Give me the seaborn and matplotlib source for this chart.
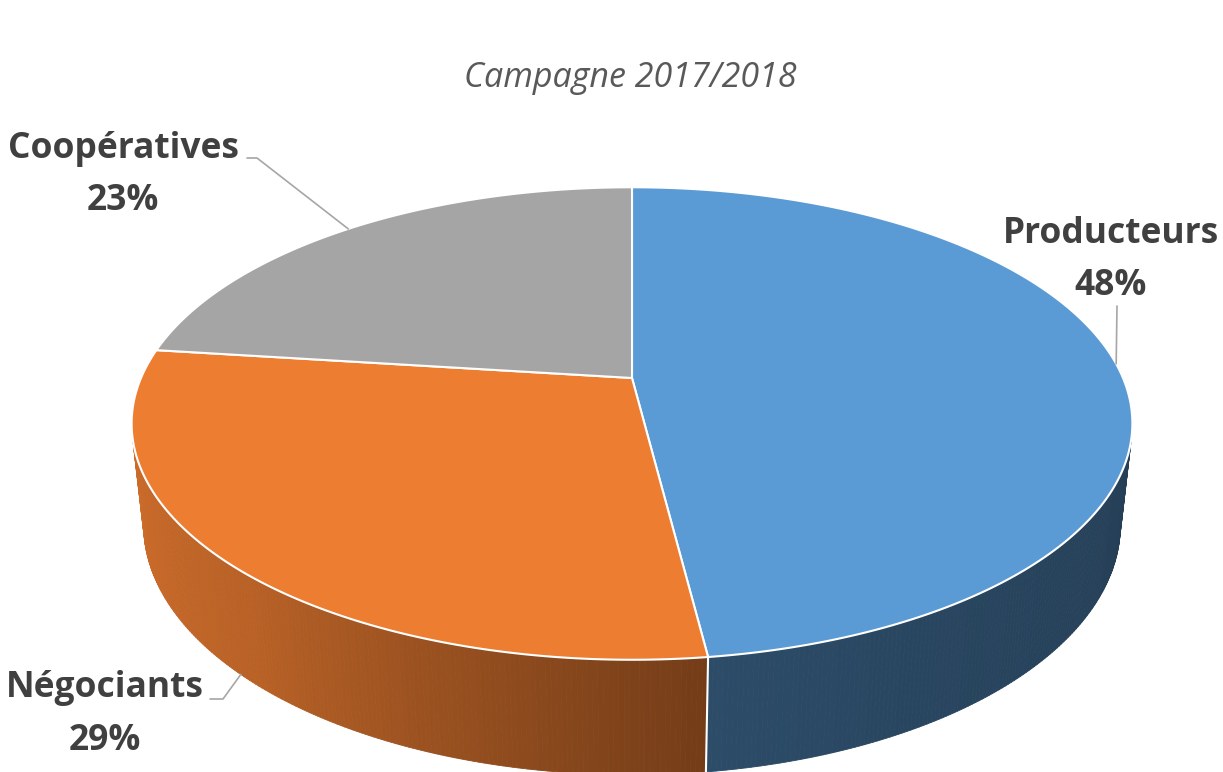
import numpy as np
import seaborn as sns
import matplotlib
matplotlib.use("Agg")
import matplotlib.pyplot as plt
from matplotlib.collections import PolyCollection

# data
categories = ["Producteurs", "Négociants", "Coopératives"]
shares = [48, 29, 23]
title = "Campagne 2017/2018"

colors = ["#5B9BD5", "#ED7D31", "#A5A5A5"]

sns.set_theme(style="white")
plt.rcParams['font.family'] = ['Open Sans', 'DejaVu Sans']

# 3d pie geometry (pixels), perspective camera looking down at the disc
CX, CY = 632, 378
SCALE = 491
PITCH = np.radians(27.6)
DIST = 4.6
F = SCALE * DIST
DEPTH = 0.235


def project(theta, level):
    t = np.radians(theta)
    u, v = np.sin(t), np.cos(t)
    zc = DIST - level * np.sin(PITCH) + v * np.cos(PITCH)
    x = CX + F * u / zc
    y = CY - F * (v * np.sin(PITCH) + level * np.cos(PITCH)) / zc
    return np.column_stack([x, y]) if np.ndim(x) else np.array([x, y])


def side_shade(theta):
    return np.interp(theta, [101, 150, 173, 180, 200, 222, 259],
                     [0.40, 0.45, 0.49, 0.53, 0.65, 0.78, 0.87])


bounds = np.concatenate([[0], np.cumsum(shares)]) * 360 / np.sum(shares)

fig = plt.figure(figsize=(12.23, 7.72), dpi=100)
ax = fig.add_axes([0, 0, 1, 1])
ax.set_xlim(0, 1223)
ax.set_ylim(772, 0)
ax.axis("off")

# visible part of the outer wall
lim = np.degrees(np.arccos(-1 / (DIST * np.cos(PITCH))))
for i, c in enumerate(colors):
    a0, a1 = max(bounds[i], lim), min(bounds[i + 1], 360 - lim)
    if a1 <= a0:
        continue
    th = np.linspace(a0, a1, int((a1 - a0) / 0.5) + 2)
    top = project(th, 0)
    bot = project(th, -DEPTH)
    quads, fcs = [], []
    base = np.array(matplotlib.colors.to_rgb(c))
    for j in range(len(th) - 1):
        quads.append([top[j], top[j + 1], bot[j + 1], bot[j]])
        fcs.append(np.clip(base * side_shade((th[j] + th[j + 1]) / 2), 0, 1))
    ax.add_collection(PolyCollection(quads, facecolors=fcs, edgecolors=fcs,
                                     linewidths=0.6, zorder=1))

for b in bounds[1:-1]:
    if lim < b < 360 - lim:
        seg = np.array([project(b, 0), project(b, -DEPTH)])
        ax.plot(seg[:, 0], seg[:, 1], color="white", lw=1.5, zorder=2)

# top faces
for i, c in enumerate(colors):
    th = np.linspace(bounds[i], bounds[i + 1], 300)
    rim = project(th, 0)
    poly = np.vstack([[CX, CY], rim])
    ax.fill(poly[:, 0], poly[:, 1], facecolor=c, edgecolor="white",
            lw=1.5, zorder=3)

ax.text(630, 87, title, ha="center", va="baseline", fontsize=24.5,
        style="italic", color="#595959")

# labels and leader lines
label_x = [1111, 105, 123]
label_y = [(243, 295), (697, 750), (158, 210)]
leader_start = [[(1117, 306)], [(210, 699), (223, 699)], [(247, 158), (257, 158)]]

for i, name in enumerate(categories):
    x = label_x[i]
    y1, y2 = label_y[i]
    ax.text(x, y1, name, ha="center", va="baseline", fontsize=25.5,
            fontweight="bold", color="#404040")
    ax.text(x, y2, f"{shares[i]}%", ha="center", va="baseline", fontsize=25.5,
            fontweight="bold", color="#404040")
    mid = (bounds[i] + bounds[i + 1]) / 2
    anchor = project(mid, 0 if np.cos(np.radians(mid)) >= 0 else -DEPTH)
    pts = np.array(leader_start[i] + [tuple(anchor)])
    ax.plot(pts[:, 0], pts[:, 1], color="#A6A6A6", lw=1.2, zorder=4)

fig.savefig("out.png", dpi=100)
